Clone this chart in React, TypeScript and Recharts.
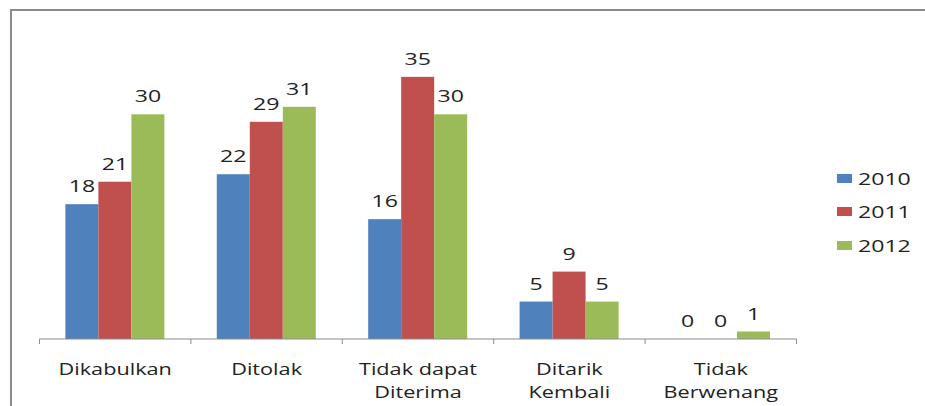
import React from 'react';
import { BarChart, Bar, XAxis, YAxis } from 'recharts';

const categories = ['Dikabulkan', 'Ditolak', 'Tidak dapat\nDiterima', 'Ditarik\nKembali', 'Tidak\nBerwenang'];
const years = ['2010', '2011', '2012'];
const values2010 = [18, 22, 16, 5, 0];
const values2011 = [21, 29, 35, 9, 0];
const values2012 = [30, 31, 30, 5, 1];
const colors = ['#4F81BD', '#C0504D', '#9BBB59'];

const data = categories.map((c, i) => ({
  name: c,
  '2010': values2010[i],
  '2011': values2011[i],
  '2012': values2012[i],
}));

const W = 925;
const H = 406;
const M = { top: 39.4, right: 128.5, bottom: 7, left: 39.5 };
const XH = 60;
const axisY = H - M.bottom - XH;
const band = (W - M.left - M.right) / categories.length;
const FONT = '"Open Sans", sans-serif';
const TEXT = '#222';
const AXIS = '#8c8c8c';
const SX = 1.4;

const CatTick = (props: any) => {
  const { x, payload, index } = props;
  const lines = String(payload.value).split('\n');
  return (
    <g>
      <line x1={x - band / 2} x2={x - band / 2} y1={axisY} y2={axisY + 5} stroke={AXIS} />
      {index === categories.length - 1 && (
        <line x1={x + band / 2} x2={x + band / 2} y1={axisY} y2={axisY + 5} stroke={AXIS} />
      )}
      {lines.map((l, i) => (
        <text
          key={i}
          transform={`translate(${x},${axisY + 36 + i * 23}) scale(${SX},1)`}
          x={0}
          y={0}
          textAnchor="middle"
          fill={TEXT}
          fontFamily={FONT}
          fontSize={15.5}
        >
          {l}
        </text>
      ))}
    </g>
  );
};

const makeShape = (key: string, fill: string) => (p: any) => {
  const { x, y, width, height } = p;
  const v = p.payload ? p.payload[key] : p.value;
  return (
    <g>
      {height > 0 && <rect x={x} y={y} width={width} height={height} fill={fill} />}
      <text
        transform={`translate(${x + width / 2},${y - 12}) scale(${SX},1)`}
        x={0}
        y={0}
        textAnchor="middle"
        fill={TEXT}
        fontFamily={FONT}
        fontSize={16.5}
      >
        {v}
      </text>
    </g>
  );
};

export default function App() {
  return (
    <div style={{ position: 'absolute', left: 0, top: 0, width: W, height: H, background: '#fff', overflow: 'hidden' }}>
      <div
        style={{
          position: 'absolute',
          left: 10,
          top: 9,
          width: W,
          height: H,
          borderTop: '2px solid #8a8a8a',
          borderLeft: '2px solid #8a8a8a',
        }}
      />
      <div style={{ position: 'absolute', left: 0, top: 0 }}>
        <BarChart width={W} height={H} data={data} margin={M} barCategoryGap="17.1%" barGap={0}>
          <XAxis
            dataKey="name"
            height={XH}
            interval={0}
            tickLine={false}
            axisLine={{ stroke: AXIS }}
            tick={<CatTick />}
          />
          <YAxis hide domain={[0, 40]} />
          {years.map((y, i) => (
            <Bar key={y} dataKey={y} fill={colors[i]} isAnimationActive={false} shape={makeShape(y, colors[i])} />
          ))}
        </BarChart>
      </div>
      {years.map((y, i) => (
        <div
          key={y}
          style={{
            position: 'absolute',
            left: 837,
            top: 178 + i * 33.5 - 12,
            height: 24,
            display: 'flex',
            alignItems: 'center',
            fontFamily: FONT,
            fontSize: 16.5,
            color: TEXT,
            whiteSpace: 'nowrap',
          }}
        >
          <span style={{ display: 'inline-block', width: 15, height: 9, background: colors[i], marginRight: 6 }} />
          <span style={{ display: 'inline-block', transform: `scaleX(${SX})`, transformOrigin: 'left center' }}>{y}</span>
        </div>
      ))}
    </div>
  );
}
